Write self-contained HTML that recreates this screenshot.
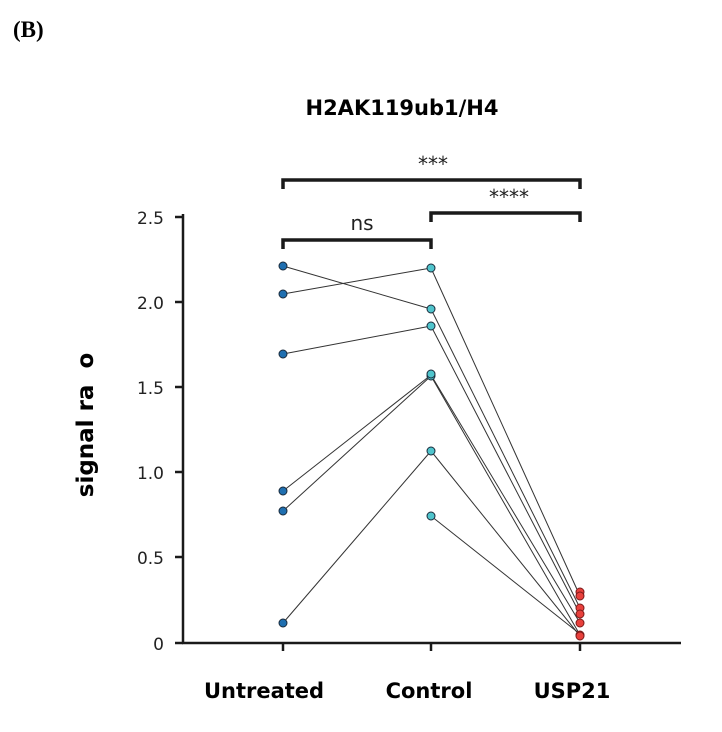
<!DOCTYPE html>
<html><head><meta charset="utf-8"><style>
html,body{margin:0;padding:0;background:#fff;width:722px;height:732px;overflow:hidden}
</style></head><body>
<svg width="722" height="732" xmlns="http://www.w3.org/2000/svg">
<text x="13" y="37" font-family="Liberation Serif" font-weight="bold" font-size="23">(B)</text>
<text x="402" y="115" text-anchor="middle" font-family="DejaVu Sans" font-weight="bold" font-size="21">H2AK119ub1/H4</text>
<g stroke="#1a1a1a" stroke-width="2.5" fill="none">
<line x1="183" y1="214" x2="183" y2="644"/>
<line x1="182" y1="643" x2="681" y2="643"/>
<line x1="175" y1="217" x2="183" y2="217"/>
<line x1="175" y1="302" x2="183" y2="302"/>
<line x1="175" y1="387" x2="183" y2="387"/>
<line x1="175" y1="472" x2="183" y2="472"/>
<line x1="175" y1="557" x2="183" y2="557"/>
<line x1="175" y1="643" x2="183" y2="643"/>
<line x1="283" y1="643" x2="283" y2="651"/>
<line x1="431" y1="643" x2="431" y2="651"/>
<line x1="580" y1="643" x2="580" y2="651"/>
</g>
<g stroke="#1a1a1a" stroke-width="3.5" fill="none">
<polyline points="283,249 283,240 431,240 431,249"/>
<polyline points="431,222 431,213 580,213 580,222"/>
<polyline points="283,189 283,180 580,180 580,189"/>
</g>
<g font-family="DejaVu Sans" font-size="20" text-anchor="middle" fill="#222">
<text x="362" y="230">ns</text>
<text x="433" y="171">***</text>
<text x="509" y="204">****</text>
</g>
<g font-family="DejaVu Sans" font-size="17" text-anchor="end" fill="#222">
<text x="164" y="224">2.5</text>
<text x="164" y="309">2.0</text>
<text x="164" y="394">1.5</text>
<text x="164" y="479">1.0</text>
<text x="164" y="564">0.5</text>
<text x="164" y="650">0</text>
</g>
<text transform="translate(93,425) rotate(-90)" text-anchor="middle" font-family="DejaVu Sans" font-weight="bold" font-size="23">signal ra&#160;&#160;o</text>
<g font-family="DejaVu Sans" font-weight="bold" font-size="21" text-anchor="middle">
<text x="264" y="698">Untreated</text>
<text x="429" y="698">Control</text>
<text x="572" y="698">USP21</text>
</g>
<g stroke="#333" stroke-width="1">
<line x1="283" y1="266" x2="431" y2="309"/>
<line x1="283" y1="294" x2="431" y2="268"/>
<line x1="283" y1="354" x2="431" y2="326"/>
<line x1="283" y1="491" x2="431" y2="375"/>
<line x1="283" y1="511" x2="431" y2="376"/>
<line x1="283" y1="623" x2="431" y2="451"/>
<line x1="431" y1="268" x2="580" y2="596"/>
<line x1="431" y1="309" x2="580" y2="608"/>
<line x1="431" y1="326" x2="580" y2="614"/>
<line x1="431" y1="375" x2="580" y2="623"/>
<line x1="431" y1="376" x2="580" y2="635"/>
<line x1="431" y1="451" x2="580" y2="636"/>
<line x1="431" y1="516" x2="580" y2="634"/>
</g>
<g stroke="#1a2a3a" stroke-width="1">
<g fill="#1f6fb0">
<circle cx="283" cy="266" r="4"/><circle cx="283" cy="294" r="4"/><circle cx="283" cy="354" r="4"/>
<circle cx="283" cy="491" r="4"/><circle cx="283" cy="511" r="4"/><circle cx="283" cy="623" r="4"/>
</g>
<g fill="#4fc4cc">
<circle cx="431" cy="268" r="4"/><circle cx="431" cy="309" r="4"/><circle cx="431" cy="326" r="4"/>
<circle cx="431" cy="376" r="4"/><circle cx="431" cy="374" r="4"/><circle cx="431" cy="451" r="4"/><circle cx="431" cy="516" r="4"/>
</g>
<g fill="#e8403c" stroke="#7a1a1a">
<circle cx="580" cy="592" r="4"/><circle cx="580" cy="596" r="4"/><circle cx="580" cy="608" r="4"/>
<circle cx="580" cy="614" r="4"/><circle cx="580" cy="623" r="4"/><circle cx="580" cy="635" r="4"/><circle cx="580" cy="636" r="4"/>
</g>
</g>
</svg>
</body></html>
